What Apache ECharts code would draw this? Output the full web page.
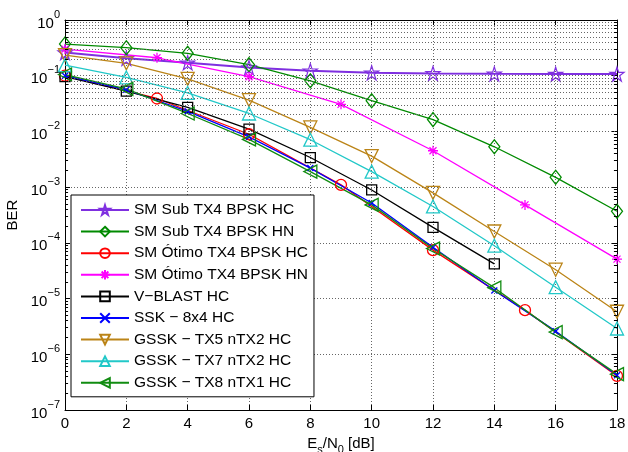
<!DOCTYPE html>
<html><head><meta charset="utf-8">
<script src="https://cdn.jsdelivr.net/npm/echarts@6/dist/echarts.min.js"></script>
<style>html,body{margin:0;padding:0;background:#fff}#c{width:628px;height:452px}</style>
</head><body><div id="c"></div>
<script>
// ---- data ----
const snrStep2 = [0, 2, 4, 6, 8, 10, 12, 14, 16, 18];
const snrStep3 = [0, 3, 6, 9, 12, 15, 18];
const snrVblast = [0, 2, 4, 6, 8, 10, 12, 14];
const xTicks = [0, 2, 4, 6, 8, 10, 12, 14, 16, 18];
const yTickExponents = [0, -1, -2, -3, -4, -5, -6, -7];

const smSubHC   = [0.26, 0.205, 0.171, 0.14, 0.123, 0.113, 0.110, 0.108, 0.107, 0.107];
const smSubHN   = [0.37, 0.318, 0.252, 0.158, 0.081, 0.0356, 0.0163, 0.0053, 0.0015, 0.00037];
const smOtHC    = [0.1, 0.039, 0.0089, 0.0011, 7.4e-5, 6.2e-6, 4.1e-7];
const smOtHN    = [0.3, 0.21, 0.096, 0.0306, 0.0045, 0.00048, 5.1e-5];
const vblastHC  = [0.096, 0.053, 0.027, 0.011, 0.0034, 0.00089, 0.00019, 4.2e-5];
const ssk8x4HC  = [0.1, 0.056, 0.023, 0.008, 0.0022, 0.00052, 8.3e-5, 1.4e-5, 2.6e-6, 4.2e-7];
const gsskTX5   = [0.235, 0.167, 0.088, 0.0365, 0.0118, 0.0036, 0.00079, 0.00016, 3.3e-5, 5.8e-6];
const gsskTX7   = [0.155, 0.093, 0.049, 0.021, 0.0071, 0.0019, 0.00045, 8.9e-5, 1.6e-5, 2.9e-6];
const gsskTX8   = [0.105, 0.058, 0.021, 0.0072, 0.0019, 0.00048, 7.9e-5, 1.57e-5, 2.5e-6, 4.4e-7];

const names = [
  'SM Sub TX4 BPSK HC', 'SM Sub TX4 BPSK HN', 'SM Ótimo TX4 BPSK HC', 'SM Ótimo TX4 BPSK HN',
  'V\u2212BLAST HC', 'SSK \u2212 8x4 HC', 'GSSK \u2212 TX5 nTX2 HC', 'GSSK \u2212 TX7 nTX2 HC', 'GSSK \u2212 TX8 nTX1 HC'
];

// ---- styling ----
const FONT = 'Liberation Sans, Arial, Helvetica, sans-serif';
const STAR = 'path://M50,0 L61.8,36 L100,36 L69,58.5 L80.9,95 L50,72.5 L19.1,95 L31,58.5 L0,36 L38.2,36 Z';
const ASTER = 'path://M5,0 L5,10 M0,5 L10,5 M1.5,1.5 L8.5,8.5 M8.5,1.5 L1.5,8.5';
const XMARK = 'path://M0,0 L10,10 M10,0 L0,10';
const TRI_DOWN = 'path://M0,0 L10,0 L5,9 Z';
const TRI_UP = 'path://M5,0 L10,9 L0,9 Z';
const TRI_LEFT = 'path://M0,5 L9,0 L9,10 Z';

function zip(xs, ys) { return xs.map((x, i) => [x, ys[i]]); }
function mk(name, xs, ys, color, symbol, size, lw, bw) {
  return {
    name, type: 'line', data: zip(xs, ys), xAxisIndex: 0, yAxisIndex: 0,
    symbol, symbolSize: size, showAllSymbol: true,
    lineStyle: { color, width: lw || 1.3 },
    itemStyle: { color: 'rgba(0,0,0,0)', borderColor: color, borderWidth: bw || 1.3 },
    emphasis: { disabled: true }, z: 3
  };
}

const series = [
  mk(names[0], snrStep2, smSubHC, '#7f2fe0', STAR, 14, 2, 1.2),
  mk(names[1], snrStep2, smSubHN, '#008a00', 'diamond', [11, 14]),
  mk(names[2], snrStep3, smOtHC, '#ff0000', 'circle', 11),
  mk(names[3], snrStep3, smOtHN, '#ff00ff', ASTER, 10),
  mk(names[4], snrVblast, vblastHC, '#000000', 'rect', 10),
  mk(names[5], snrStep2, ssk8x4HC, '#0000ff', XMARK, 6),
  mk(names[6], snrStep2, gsskTX5, '#bb8417', TRI_DOWN, 13),
  mk(names[7], snrStep2, gsskTX7, '#22c8c8', TRI_UP, 13),
  mk(names[8], snrStep2, gsskTX8, '#118c11', TRI_LEFT, 13)
];

// minor grid lines / minor ticks on the log axis (2..9 x 10^k)
const minorVals = [];
for (let k = -7; k < 0; k++) for (let m = 2; m <= 9; m++) minorVals.push(m * Math.pow(10, k));
const minorLines = [];
minorVals.forEach(v => {
  minorLines.push({ yAxis: v, lineStyle: { type: [1, 2], color: '#666', width: 1 } });
  minorLines.push([{ coord: [0, v], lineStyle: { type: 'solid', color: '#000', width: 1 } }, { coord: [0.1, v] }]);
  minorLines.push([{ coord: [17.9, v], lineStyle: { type: 'solid', color: '#000', width: 1 } }, { coord: [18, v] }]);
});
series.push({
  type: 'line', data: [], xAxisIndex: 0, yAxisIndex: 0, silent: true, z: 1,
  markLine: { silent: true, symbol: ['none', 'none'], label: { show: false }, animation: false, data: minorLines }
});

const chart = echarts.init(document.getElementById('c'), null, { renderer: 'canvas' });
chart.setOption({
  animation: false,
  backgroundColor: '#fff',
  textStyle: { fontFamily: FONT },
  grid: { left: 65, right: 11, top: 20, bottom: 42, containLabel: false, outerBoundsMode: 'none' },
  legend: {
    orient: 'vertical', left: 71, top: 195,
    data: names,
    itemWidth: 48, itemHeight: 12, itemGap: 5.6,
    padding: [7, 6, 6, 9],
    backgroundColor: '#fff', borderColor: '#000', borderWidth: 1, borderRadius: 0,
    textStyle: { fontFamily: FONT, fontSize: 15.5, color: '#000', padding: [0, 0, 0, 0] },
    selectedMode: false, z: 10
  },
  xAxis: [{
    type: 'value', min: 0, max: 18, interval: 2, position: 'bottom',
    name: '{a|E}{s|s}{a|/N}{s|0}{a| [dB]}',
    nameLocation: 'middle', nameGap: 22,
    nameTextStyle: {
      rich: {
        a: { fontFamily: FONT, fontSize: 15, color: '#000', lineHeight: 20, verticalAlign: 'top' },
        s: { fontFamily: FONT, fontSize: 11, color: '#000', lineHeight: 11, verticalAlign: 'bottom' }
      }
    },
    axisLine: { show: true, onZero: false, lineStyle: { color: '#000', width: 1 } },
    axisTick: { show: true, inside: true, length: 5, lineStyle: { color: '#000' } },
    axisLabel: { fontFamily: FONT, fontSize: 15, color: '#000', margin: 6 },
    splitLine: { show: true, lineStyle: { type: [1, 2], color: '#666', width: 1 } }
  }, {
    type: 'value', min: 0, max: 18, interval: 2, position: 'top',
    axisLine: { show: true, onZero: false, lineStyle: { color: '#000', width: 1 } },
    axisTick: { show: true, inside: true, length: 5, lineStyle: { color: '#000' } },
    axisLabel: { show: false }, splitLine: { show: false }
  }],
  yAxis: [{
    type: 'log', logBase: 10, min: 1e-7, max: 1, position: 'left',
    name: 'BER', nameLocation: 'middle', nameGap: 43, nameRotate: 90,
    nameTextStyle: { fontFamily: FONT, fontSize: 15, color: '#000' },
    axisLine: { show: true, onZero: false, lineStyle: { color: '#000', width: 1 } },
    axisTick: { show: true, inside: true, length: 5, lineStyle: { color: '#000' } },
    axisLabel: {
      margin: 5,
      formatter: v => {
        const e = Math.round(Math.log10(v));
        if (!yTickExponents.includes(e)) return '';
        return '{b|10}{p|' + (e < 0 ? '\u2212' + (-e) : e) + '}';
      },
      rich: {
        b: { fontFamily: FONT, fontSize: 15, color: '#000', lineHeight: 22, verticalAlign: 'bottom' },
        p: { fontFamily: FONT, fontSize: 11, color: '#000', lineHeight: 12, verticalAlign: 'top' }
      }
    },
    splitLine: { show: true, lineStyle: { type: [1, 2], color: '#666', width: 1 } }
  }, {
    type: 'log', logBase: 10, min: 1e-7, max: 1, position: 'right',
    axisLine: { show: true, onZero: false, lineStyle: { color: '#000', width: 1 } },
    axisTick: { show: true, inside: true, length: 5, lineStyle: { color: '#000' } },
    axisLabel: { show: false }, splitLine: { show: false }
  }],
  series
});
</script>
</body></html>
